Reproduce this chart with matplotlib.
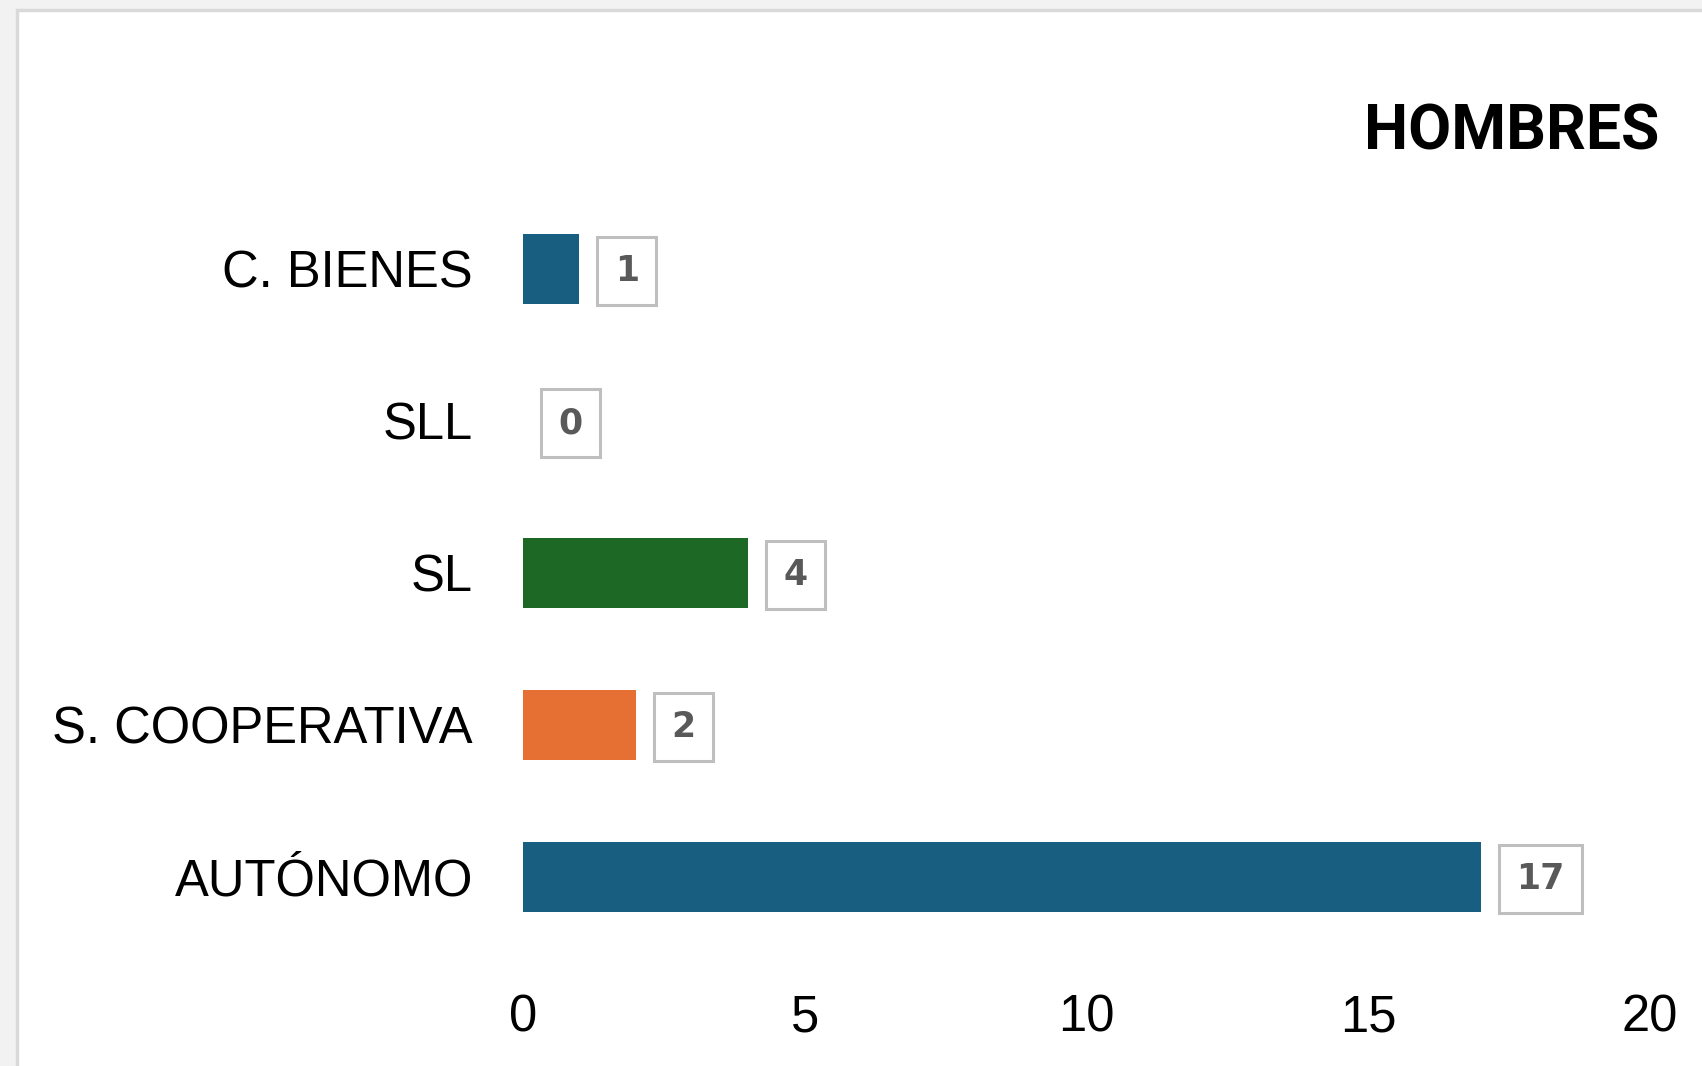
import matplotlib
matplotlib.use('Agg')
import matplotlib.pyplot as plt
from matplotlib.patches import Rectangle

# datos
categorias = ['AUTÓNOMO', 'S. COOPERATIVA', 'SL', 'SLL', 'C. BIENES']
valores = [17, 2, 4, 0, 1]
colores = ['#175e80', '#e67034', '#1d6824', '#175e80', '#175e80']
ticks_x = [0, 5, 10, 15, 20]
titulo = 'HOMBRES'

plt.rcParams['font.family'] = ['Liberation Sans', 'DejaVu Sans']

fig = plt.figure(figsize=(17.02, 10.66), dpi=100)
fig.patch.set_facecolor('#f2f2f2')

# panel blanco con borde gris
panel = Rectangle((17 / 1702, -0.05), 1.0, 1 - 10 / 1066 + 0.05,
                  transform=fig.transFigure, facecolor='white',
                  edgecolor='#d9d9d9', linewidth=2.5, zorder=-10)
fig.patches.append(panel)

ax = fig.add_axes([523 / 1702, 0.106, 1127 / 1702, 0.713])
ax.set_facecolor('none')
ax.set_zorder(5)

y = list(range(len(categorias)))
ax.barh(y, valores, height=0.46, color=colores, zorder=2)

# etiquetas con recuadro gris
for yi, v in zip(y, valores):
    ax.annotate(str(v), xy=(v, yi), xytext=(25.5, -1.5), textcoords='offset points',
                ha='left', va='center', fontsize=25, fontweight='bold',
                color='#595959', family='DejaVu Sans',
                bbox=dict(boxstyle='square,pad=0.5', facecolor='white',
                          edgecolor='#bfbfbf', linewidth=2.2))

ax.set_xlim(0, 20)
ax.set_ylim(-0.5, len(categorias) - 0.5)
ax.set_xticks(ticks_x)
ax.set_yticks(y)
ax.set_yticklabels(categorias)
ax.tick_params(axis='both', length=0, labelsize=36.5, colors='black')
ax.tick_params(axis='x', pad=29)
ax.tick_params(axis='y', pad=36)
for s in ax.spines.values():
    s.set_visible(False)

fig.text(1659 / 1702, 1 - 133 / 1066, titulo, ha='right', va='center',
         fontsize=45, fontweight='bold', family=['Roboto', 'DejaVu Sans'])

fig.savefig('out.png', dpi=100, facecolor=fig.get_facecolor())
